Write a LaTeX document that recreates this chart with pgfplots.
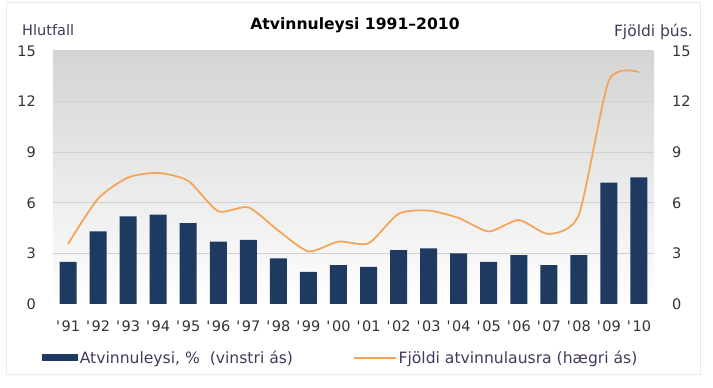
\documentclass[border=0pt]{standalone}
\usepackage{fontspec}
\setmainfont{DejaVu Sans}[Ligatures=TeXOff]
\usepackage{pgfplots}
\pgfplotsset{compat=1.18}
\definecolor{navy}{HTML}{1F3A60}
\definecolor{orng}{HTML}{F5A252}
\definecolor{txt}{HTML}{333333}
\definecolor{lbl}{HTML}{45385A}
\newcommand{\fs}{\fontsize{14.5}{17}\selectfont}
\newcommand{\fl}{\fontsize{15.6}{18}\selectfont}
\newcommand{\q}{'\kern1.6pt}
\begin{document}
\begin{tikzpicture}
\path[use as bounding box] (0pt,0pt) rectangle (713pt,388pt);
\draw[black!8, line width=1pt] (6pt,13pt) rectangle (700pt,385pt);
\begin{axis}[at={(53pt,84pt)}, anchor=south west, scale only axis,
  width=601pt, height=253pt,
  xmin=-0.5, xmax=19.5, ymin=0, ymax=15,
  ybar, bar width=17pt,
  axis line style={draw=none}, tick style={draw=none},
  xtick={0,...,19},
  xticklabels={\q91,\q92,\q93,\q94,\q95,\q96,\q97,\q98,\q99,\q00,\q01,\q02,\q03,\q04,\q05,\q06,\q07,\q08,\q09,\q10},
  ytick={0,3,...,15},
  extra y ticks={3,6,9,12}, extra y tick labels={}, extra y tick style={grid=major},
  major grid style={black!18, line width=0.9pt},
  axis background/.style={top color=black!17, middle color=white, bottom color=white},
  tick label style={font=\fs, text=txt},
  /pgf/number format/assume math mode=true,
  yticklabel style={inner xsep=0pt, anchor=east, xshift=-17pt},
  xticklabel style={inner sep=0pt, anchor=north, yshift=-12.5pt},
  legend style={draw=none, fill=none, legend columns=2, anchor=west,
    at={(-0.019,-0.213)}, inner sep=0pt, font=\fl, text=lbl,
    /tikz/every even column/.append style={column sep=58pt}},
  legend cell align=left,
]
\addplot[fill=navy, draw=none,
  legend image code/.code={\fill[navy] (0pt,-3.5pt) rectangle (36pt,3.5pt);}]
coordinates {(0,2.5) (1,4.3) (2,5.2) (3,5.3) (4,4.8) (5,3.7) (6,3.8) (7,2.7) (8,1.9) (9,2.3)
 (10,2.2) (11,3.2) (12,3.3) (13,3.0) (14,2.5) (15,2.9) (16,2.3) (17,2.9) (18,7.2) (19,7.5)};
\addlegendentry{Atvinnuleysi, \%\ \ (vinstri ás)}
\addlegendimage{legend image code/.code={\draw[orng, line width=1.5pt] (0pt,0pt) -- (42pt,0pt);}}
\addlegendentry{Fjöldi atvinnulausra (hægri ás)}
\end{axis}
\begin{axis}[at={(53pt,84pt)}, anchor=south west, scale only axis,
  width=601pt, height=253pt,
  xmin=-0.5, xmax=19.5, ymin=0, ymax=15,
  axis y line*=right, hide x axis,
  axis line style={draw=none}, tick style={draw=none},
  ytick={0,3,...,15},
  tick label style={font=\fs, text=txt},
  /pgf/number format/assume math mode=true,
  yticklabel style={inner xsep=0pt, anchor=west, xshift=18pt},
]
\addplot[orng, line width=1.7pt, smooth, tension=0.4] coordinates {
 (0,3.56) (1,6.25) (2,7.5) (3,7.77) (4,7.3) (5,5.5) (6,5.73) (7,4.35) (8,3.12) (9,3.7)
 (10,3.6) (11,5.35) (12,5.54) (13,5.1) (14,4.3) (15,4.98) (16,4.15) (17,5.3) (18,13.25) (19,13.75)};
\end{axis}
\node[font=\bfseries\fontsize{15.6}{18}\selectfont, text=black] at (355pt,363pt) {Atvinnuleysi 1991–2010};
\node[font=\fs, text=lbl, anchor=west, inner sep=0pt] at (22pt,358pt) {Hlutfall};
\node[font=\fontsize{15.5}{18}\selectfont, text=lbl, anchor=east, inner sep=0pt] at (693pt,356pt) {Fjöldi þús.};
\end{tikzpicture}
\end{document}
